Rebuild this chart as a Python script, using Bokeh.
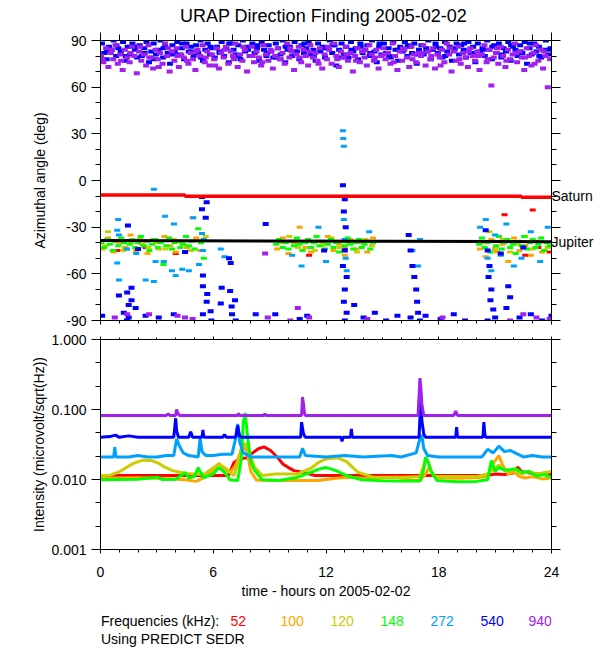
import math
from bokeh.plotting import figure
from bokeh.models import Range1d, FixedTicker, LinearAxis, LogAxis, PrintfTickFormatter, ColumnDataSource
from bokeh.core.properties import value
from bokeh.layouts import column
from bokeh.embed import file_html
from bokeh.resources import INLINE

FONT = "Liberation Sans"

# ---------------- texts ----------------
title_text = "URAP Direction Finding  2005-02-02"
x_label = "time - hours on 2005-02-02"
y1_label = "Azimuthal angle (deg)"
y2_label = "Intensity (microvolt/sqrt(Hz))"
legend_head = "Frequencies (kHz):"
legend_note = "Using PREDICT SEDR"
freq_labels = ["52", "100", "120", "148", "272", "540", "940"]
freq_colors = ["#FF0000", "#FFA500", "#CCCC00", "#00FF00", "#00A0FF", "#0000FF", "#A020F0"]
planet_names = ["Saturn", "Jupiter"]

# ---------------- ticks ----------------
hour_ticks = [0, 6, 12, 18, 24]
hour_minor = [h for h in range(0, 25) if h not in hour_ticks]
angle_ticks = [-90, -60, -30, 0, 30, 60, 90]
angle_minor = [-80, -70, -50, -40, -20, -10, 10, 20, 40, 50, 70, 80]
intensity_ticks = [0.001, 0.01, 0.1, 1.0]
intensity_minor = [0.00215, 0.00464, 0.0215, 0.0464, 0.215, 0.464]

# ---------------- top panel: direction finding (hour, azimuth deg) ----------------
saturn = [(0, -9.3), (4.5, -9.3), (4.5, -10.2), (22.4, -10.2), (22.4, -10.8), (24, -10.8)]
jupiter = [(0, -38.6), (24, -39.3)]
planet_label_pos = [-9.9, -39.3]

df_940 = [
    (0.03,80),(0.15,76),(0.3,85),(0.42,73),(0.55,82),(0.68,78),(0.8,87),(0.92,75),
    (1.05,81),(1.18,71),(1.3,84),(1.42,79),(1.55,76),(1.68,86),(1.8,80),(1.93,69),
    (2.05,83),(2.17,77),(2.3,81),(2.43,74),(2.55,87),(2.68,79),(2.8,72),(2.93,84),
    (3.05,78),(3.17,82),(3.3,75),(3.43,88),(3.55,80),(3.68,70),(3.8,83),(3.93,77),
    (4.05,85),(4.17,73),(4.3,81),(4.43,79),(4.55,86),(4.68,75),(4.8,82),(4.93,78),
    (5.05,71),(5.17,84),(5.3,80),(5.43,87),(5.55,76),(5.68,83),(5.8,74),(5.93,81),
    (6.05,78),(6.17,85),(6.3,72),(6.43,82),(6.55,79),(6.68,86),(6.8,75),(6.93,83),
    (7.05,80),(7.17,88),(7.3,73),(7.43,81),(7.55,77),(7.68,84),(7.8,70),(7.93,80),
    (8.05,86),(8.17,76),(8.3,83),(8.43,79),(8.55,74),(8.68,87),(8.8,81),(8.93,77),
    (9.05,84),(9.17,72),(9.3,80),(9.43,85),(9.55,78),(9.68,82),(9.8,75),(9.93,88),
    (10.05,79),(10.17,83),(10.3,71),(10.43,81),(10.55,86),(10.68,76),(10.8,84),(10.93,80),
    (11.05,74),(11.17,87),(11.3,79),(11.43,82),(11.55,77),(11.68,85),(11.8,72),(11.93,81),
    (12.05,78),(12.17,84),(12.3,75),(12.43,88),(12.55,80),(12.68,73),(12.8,83),(12.93,79),
    (13.05,86),(13.17,77),(13.3,82),(13.43,70),(13.55,80),(13.68,85),(13.8,76),(13.93,83),
    (14.05,79),(14.17,74),(14.3,87),(14.43,81),(14.55,77),(14.68,84),(14.8,72),(14.93,80),
    (15.05,85),(15.17,78),(15.3,82),(15.43,75),(15.55,88),(15.68,80),(15.8,71),(15.93,83),
    (16.05,77),(16.17,84),(16.3,79),(16.43,73),(16.55,86),(16.68,81),(16.8,76),(16.93,82),
    (17.05,80),(17.17,87),(17.3,74),(17.43,83),(17.55,78),(17.68,85),(17.8,72),(17.93,81),
    (18.05,79),(18.17,84),(18.3,76),(18.43,88),(18.55,81),(18.68,70),(18.8,83),(18.93,77),
    (19.05,86),(19.17,75),(19.3,82),(19.43,79),(19.55,73),(19.68,85),(19.8,80),(19.93,77),
    (20.05,83),(20.17,71),(20.3,81),(20.43,87),(20.55,76),(20.68,84),(20.8,61),(20.93,79),
    (21.05,82),(21.17,75),(21.3,86),(21.43,80),(21.55,73),(21.68,84),(21.8,78),(21.93,81),
    (22.05,88),(22.17,76),(22.3,83),(22.43,79),(22.55,71),(22.68,85),(22.8,80),(22.93,74),
    (23.05,82),(23.17,87),(23.3,77),(23.43,84),(23.55,72),(23.68,80),(23.8,60),(23.93,78),
    (0.1,78),(0.6,84),(1.1,77),(1.6,82),(2.1,86),(2.6,79),(3.1,73),(3.6,85),(4.1,80),(4.6,77),
    (5.1,83),(5.6,79),(6.1,74),(6.6,84),(7.1,78),(7.6,86),(8.1,80),(8.6,76),(9.1,83),(9.6,78),
    (10.1,85),(10.6,79),(11.1,83),(11.6,75),(12.1,86),(12.6,78),(13.1,81),(13.6,77),(14.1,84),
    (14.6,79),(15.1,81),(15.6,76),(16.1,85),(16.6,78),(17.1,82),(17.6,80),(18.1,74),(18.6,85),
    (19.1,78),(19.6,83),(20.1,80),(20.6,78),(21.1,85),(21.6,77),(22.1,82),(22.6,79),(23.1,75),(23.6,83),
    (0.76,-88),(1.42,-86),(2.58,-86),(4.1,-87),(4.5,-88),(4.9,-89),(8.9,-88),(10.1,-90),
    (10.5,-82),(11.1,-88),(8.76,-47),(14.2,-89),(18.2,-88),(21.8,-90),(22.5,-86),(23.2,-88),(23.9,-89),
]

df_540 = [
    (0.08,88),(0.2,82),(0.33,78),(0.45,86),(0.58,84),(0.7,90),(0.83,80),(0.95,85),
    (1.08,83),(1.2,89),(1.33,77),(1.45,86),(1.58,81),(1.7,88),(1.83,84),(1.95,79),
    (2.08,87),(2.2,80),(2.33,85),(2.45,89),(2.58,76),(2.7,83),(2.83,88),(2.95,81),
    (3.08,84),(3.2,90),(3.33,79),(3.45,86),(3.58,82),(3.7,75),(3.83,87),(3.95,83),
    (4.08,89),(4.2,81),(4.33,85),(4.45,78),(4.58,88),(4.7,83),(4.83,86),(4.95,80),
    (5.08,87),(5.2,82),(5.33,90),(5.45,77),(5.58,84),(5.7,88),(5.83,81),(5.95,85),
    (6.08,79),(6.2,86),(6.33,83),(6.45,89),(6.58,80),(6.7,85),(6.83,76),(6.95,88),
    (7.08,84),(7.2,81),(7.33,87),(7.45,78),(7.58,90),(7.7,83),(7.83,86),(7.95,80),
    (8.08,88),(8.2,82),(8.33,85),(8.45,77),(8.58,89),(8.7,84),(8.83,80),(8.95,87),
    (9.08,83),(9.2,79),(9.33,88),(9.45,85),(9.58,81),(9.7,90),(9.83,76),(9.95,84),
    (10.08,86),(10.2,80),(10.33,89),(10.45,83),(10.58,78),(10.7,87),(10.83,82),(10.95,85),
    (11.08,89),(11.2,81),(11.33,84),(11.45,77),(11.58,88),(11.7,83),(11.83,86),(11.95,79),
    (12.08,85),(12.2,90),(12.33,82),(12.45,87),(12.55,74),(12.7,84),(12.83,88),(12.95,81),
    (13.08,86),(13.2,79),(13.33,89),(13.45,83),(13.58,85),(13.7,78),(13.83,88),(13.95,82),
    (14.08,84),(14.2,87),(14.33,80),(14.45,90),(14.58,83),(14.7,76),(14.83,86),(14.95,81),
    (15.08,88),(15.2,82),(15.33,85),(15.45,79),(15.58,89),(15.7,84),(15.83,77),(15.95,86),
    (16.08,83),(16.2,89),(16.33,80),(16.45,86),(16.58,82),(16.7,88),(16.83,75),(16.95,84),
    (17.08,87),(17.2,81),(17.33,85),(17.45,90),(17.58,78),(17.7,84),(17.83,88),(17.95,82),
    (18.08,85),(18.2,79),(18.33,89),(18.45,83),(18.58,86),(18.7,77),(18.83,84),(18.95,88),
    (19.08,81),(19.2,87),(19.33,84),(19.45,79),(19.58,89),(19.7,82),(19.83,86),(19.95,76),
    (20.08,88),(20.2,83),(20.33,85),(20.45,80),(20.58,90),(20.7,84),(20.83,78),(20.95,87),
    (21.08,82),(21.2,88),(21.33,79),(21.45,85),(21.58,83),(21.7,89),(21.83,77),(21.95,86),
    (22.08,84),(22.2,80),(22.33,87),(22.45,82),(22.58,89),(22.7,75),(22.83,85),(22.95,81),
    (23.08,88),(23.2,83),(23.33,86),(23.45,79),(23.58,84),(23.7,90),(23.83,81),(23.95,85),
    (0.35,83),(0.85,87),(1.35,80),(1.85,86),(2.35,82),(2.85,78),(3.35,85),(3.85,81),(4.35,88),
    (4.85,83),(5.35,79),(5.85,86),(6.35,82),(6.85,88),(7.35,80),(7.85,84),(8.35,87),(8.85,82),
    (9.35,79),(9.85,86),(10.35,83),(10.85,88),(11.35,80),(11.85,85),(12.35,87),(12.85,79),
    (13.35,84),(13.85,86),(14.35,82),(14.85,88),(15.35,80),(15.85,84),(16.35,87),(16.85,81),
    (17.35,83),(17.85,86),(18.35,80),(18.85,85),(19.35,88),(19.85,82),(20.35,84),(20.85,86),
    (21.35,81),(21.85,87),(22.35,83),(22.85,88),(23.35,80),(23.85,84),
    (1.46,-29),(5.4,-10.6),(5.65,-14),(5.4,-18.5),(5.6,-24),(5.45,-61),(5.45,-68),(5.68,-73),
    (5.65,-78),(5.86,-84),(6.84,-50),(6.93,-53),(6.45,-69),(6.9,-71),(7.16,-77),(6.98,-81),
    (7.0,-86),(6.4,-79),(1.65,-69),(1.42,-72),(0.98,-74),(1.65,-77),(1.5,-80),(1.87,-82),
    (1.24,-85),(1.5,-88),(0.09,-87),(2.4,-87),(3.1,-88),(3.9,-86),(5.45,-86),(5.9,-90),
    (7.2,-90),(8.26,-86),(9.3,-86),(8.79,-28),(10.6,-89),(11.0,-87),(1.4,-90),
    (12.9,-3),(13.0,-12),(12.95,-20),(13.05,-30),(13.0,-45),(12.9,-55),(13.1,-62),(13.0,-70),
    (12.95,-78),(13.1,-85),(13.0,-90),(13.5,-80),(14.0,-88),(14.6,-85),(15.2,-90),(15.8,-87),
    (16.4,-35),(16.5,-45),(16.6,-55),(16.7,-62),(16.8,-70),(16.85,-78),(16.9,-85),(17.0,-90),
    (16.5,-88),(17.3,-87),(18.1,-89),(18.8,-86),(19.4,-90),
    (20.5,-32),(20.6,-45),(20.7,-55),(20.65,-62),(20.8,-70),(20.75,-77),(20.9,-83),(21.0,-88),
    (20.6,-90),(21.7,-68),(21.8,-75),(21.6,-82),(22.3,-88),(22.9,-86),(23.5,-90),(24.0,-87),
    (2.0,-44),(4.5,-46),(11.9,-45),(21.3,-47),(22.5,-43),
]

df_272 = [
    (0.89,-32),(0.94,-25),(0.98,-35),(0.89,-53),(0.98,-64),(1.4,-44),(1.9,-47),(2.4,-64),
    (2.84,-5.7),(2.84,-65),(2.93,-52),(3.37,-52),(3.43,-23),(3.8,-58),(3.91,-28),(4.0,-61),
    (4.35,-57),(4.7,-58),(4.94,-24),(5.24,-54),(5.4,-34),(5.45,-45),(5.5,-38),(6.4,-44),
    (6.6,-49),(10.7,-55),(10.2,-48),(11.6,-30),(12.0,-52),(12.9,32),(12.92,27),(12.95,22),
    (12.95,-25),(13.0,-38),(13.05,-50),(13.1,-58),(14.3,-33),(16.6,-45),(16.9,-55),(17.0,-38),
    (20.2,-30),(20.5,-25),(20.6,-50),(20.8,-58),(21.0,-35),(21.3,-48),(21.6,-28),(22.0,-55),
    (22.4,-50),(22.9,-33),(23.4,-52),(23.8,-30),
]

df_148 = [
    (0.05,-40),(0.2,-43),(0.35,-38),(0.5,-41),(0.65,-45),(0.8,-39),(0.95,-42),(1.1,-37),
    (1.25,-40),(1.4,-44),(1.55,-41),(1.7,-38),(1.85,-43),(2.0,-40),(2.15,-36),(2.3,-42),
    (2.45,-39),(2.6,-45),(2.75,-41),(2.9,-38),(3.05,-43),(3.2,-40),(3.35,-54),(3.5,-42),
    (3.65,-37),(3.8,-44),(3.95,-40),(4.1,-39),(4.25,-43),(4.4,-41),(4.55,-36),(4.7,-42),
    (4.85,-39),(5.0,-44),(5.2,-31),(5.35,-40),(5.5,-50),
    (9.35,-41),(9.5,-38),(9.7,-43),(9.85,-40),(10.0,-44),(10.15,-39),(10.3,-42),(10.45,-37),
    (10.6,-41),(10.75,-45),(10.9,-40),(11.05,-38),(11.2,-43),(11.35,-40),(11.5,-36),(11.65,-42),
    (11.8,-39),(11.95,-44),(12.1,-41),(12.25,-38),(12.4,-43),(12.55,-40),(12.7,-46),(12.85,-39),
    (13.0,-42),(13.15,-37),(13.3,-41),(13.45,-44),(13.6,-40),(13.75,-38),(13.9,-43),(14.05,-41),
    (14.2,-39),(14.35,-44),(14.5,-40),
    (20.15,-41),(20.3,-37),(20.45,-43),(20.6,-40),(20.75,-46),(20.9,-39),(21.05,-42),(21.2,-36),
    (21.35,-44),(21.5,-40),(21.65,-38),(21.8,-43),(21.95,-41),(22.1,-47),(22.25,-39),(22.4,-42),
    (22.55,-36),(22.7,-44),(22.85,-40),(23.0,-38),(23.15,-43),(23.3,-41),(23.45,-37),(23.6,-45),
    (23.75,-40),(23.9,-42),
]

df_120 = [
    (0.25,-42),(0.4,-33),(0.75,-39),(1.2,-45),(1.65,-40),(2.1,-37),(2.55,-43),(3.0,-40),
    (3.45,-44),(3.9,-38),(4.35,-41),(4.8,-45),(5.6,-36),
    (9.6,-40),(10.05,-36),(10.5,-43),(10.95,-39),(11.4,-45),(11.85,-41),(12.3,-37),(12.75,-43),
    (13.2,-40),(13.65,-46),(14.1,-38),(14.45,-42),
    (20.4,-40),(20.7,-33),(21.0,-44),(21.4,-38),(21.8,-46),(22.2,-41),(22.6,-36),(23.0,-44),
    (23.4,-39),(23.8,-43),
]

df_100 = [
    (0.1,-44),(0.4,-37),(0.7,-46),(1.0,-40),(1.3,-43),(1.6,-35),(1.9,-45),(2.2,-41),
    (2.5,-47),(2.8,-38),(3.1,-44),(3.4,-36),(3.7,-42),(4.0,-46),(4.3,-39),(4.6,-43),
    (4.9,-24),(5.1,-37),(5.3,-45),
    (9.4,-44),(9.7,-37),(10.0,-47),(10.3,-40),(10.6,-30),(10.9,-43),(11.2,-46),(11.5,-39),
    (11.8,-42),(12.1,-36),(12.4,-45),(12.7,-41),(13.0,-48),(13.3,-38),(13.6,-44),(13.9,-40),
    (14.2,-46),(14.5,-37),
    (20.2,-44),(20.5,-49),(20.8,-38),(21.1,-46),(21.4,-41),(21.7,-52),(22.0,-37),(22.3,-45),
    (22.6,-42),(22.9,-48),(23.2,-39),(23.5,-46),(23.8,-43),
]

df_52 = [
    (0.9,-45),(2.4,-43),(4.0,-47),(11.1,-48),(13.0,-44),(21.0,-44),(21.5,-22),(22.6,-48),
    (23.0,-19),(23.3,-43),(23.9,-46),
]

# ---------------- bottom panel: intensity (hour, microvolt/sqrt(Hz)) ----------------
int_52 = [(0,0.0114),(6.8,0.0114),(6.9,0.013),(7.1,0.0175),(7.4,0.0197),(7.8,0.0205),(8.1,0.024),
    (8.4,0.0275),(8.7,0.0293),(9.05,0.026),(9.4,0.021),(9.7,0.0167),(10.0,0.0148),(10.3,0.0134),
    (10.9,0.0125),(11.4,0.0114),(16.0,0.0114),(20.5,0.0114),(21.0,0.012),(21.5,0.0118),(22.0,0.0125),
    (22.2,0.015),(22.4,0.013),(23.0,0.0122),(23.5,0.012),(24,0.0118)]
int_100 = [(0,0.0104),(1.0,0.0105),(2.0,0.0106),(3.0,0.0104),(4.0,0.0102),(4.6,0.0098),(5.1,0.0094),
    (5.6,0.011),(6.0,0.0135),(6.3,0.017),(6.6,0.014),(6.9,0.0125),(7.2,0.016),(7.45,0.025),(7.6,0.031),
    (7.8,0.025),(8.0,0.013),(8.3,0.0098),(9.0,0.0097),(10.5,0.0097),(11.6,0.0097),(12.5,0.0104),
    (13.3,0.0108),(14.0,0.0104),(15.0,0.0106),(15.8,0.0108),(16.5,0.0098),(17.0,0.0097),(17.3,0.012),
    (17.5,0.015),(17.7,0.0115),(18.0,0.0106),(19.0,0.0104),(20.0,0.0106),(20.6,0.011),(20.9,0.017),
    (21.2,0.022),(21.4,0.016),(21.7,0.012),(22.0,0.013),(22.3,0.011),(22.6,0.0105),(23.0,0.011),
    (23.5,0.0102),(24,0.0105)]
int_120 = [(0,0.0114),(0.5,0.0115),(0.95,0.0127),(1.4,0.015),(1.7,0.0167),(2.0,0.018),(2.3,0.0189),
    (2.7,0.0187),(3.1,0.017),(3.4,0.0151),(3.8,0.0135),(4.2,0.0127),(4.6,0.0122),(5.0,0.012),
    (5.5,0.0118),(5.9,0.014),(6.3,0.0167),(6.7,0.0142),(7.1,0.0114),(7.4,0.02),(7.5,0.029),(7.7,0.033),
    (7.9,0.025),(8.2,0.015),(8.6,0.0114),(9.3,0.012),(10.5,0.012),(11.2,0.0145),(11.6,0.0175),
    (12.0,0.0197),(12.6,0.0205),(13.1,0.018),(13.4,0.015),(13.7,0.0127),(14.5,0.0108),(16.0,0.0108),
    (17.0,0.011),(17.2,0.016),(17.35,0.02),(17.6,0.013),(17.8,0.011),(20.0,0.011),(20.6,0.012),
    (20.9,0.014),(21.2,0.016),(21.6,0.013),(22.0,0.014),(22.4,0.012),(22.8,0.013),(23.2,0.012),
    (23.6,0.0125),(24,0.013)]
int_148 = [(0,0.0099),(1.0,0.0100),(2.0,0.0101),(3.0,0.0108),(3.3,0.0100),(4.0,0.0101),(4.5,0.0125),
    (4.7,0.0105),(5.0,0.011),(5.2,0.0148),(5.3,0.013),(5.5,0.0106),(6.0,0.012),(6.3,0.0148),
    (6.6,0.0127),(6.9,0.0098),(7.3,0.0097),(7.5,0.02),(7.6,0.066),(7.7,0.089),(7.85,0.036),(8.0,0.018),
    (8.2,0.0135),(8.6,0.0099),(9.5,0.0097),(10.5,0.0108),(11.2,0.0127),(11.6,0.014),(12.0,0.0148),
    (12.5,0.0135),(13.1,0.0114),(13.9,0.0099),(15.0,0.0096),(16.0,0.0095),(17.0,0.0095),(17.2,0.014),
    (17.3,0.0208),(17.45,0.0175),(17.6,0.013),(17.9,0.0097),(19.0,0.0093),(20.0,0.0094),(20.6,0.0099),
    (20.8,0.0187),(21.0,0.013),(21.2,0.015),(21.5,0.0135),(22.1,0.0142),(22.4,0.0127),(22.8,0.013),
    (23.2,0.0112),(23.6,0.0118),(24,0.0108)]
int_272 = [(0,0.021),(0.7,0.021),(0.76,0.029),(0.82,0.021),(1.5,0.021),(2.0,0.022),(2.5,0.021),
    (3.0,0.021),(3.5,0.022),(3.9,0.022),(4.05,0.038),(4.2,0.03),(4.4,0.024),(4.7,0.022),(5.2,0.021),
    (5.3,0.039),(5.4,0.025),(5.6,0.022),(6.0,0.022),(6.5,0.023),(7.0,0.023),(7.2,0.04),(7.3,0.062),
    (7.4,0.035),(7.6,0.024),(8.0,0.021),(10.6,0.021),(10.75,0.028),(10.9,0.022),(12.0,0.021),
    (13.0,0.022),(14.0,0.021),(15.5,0.022),(16.0,0.021),(16.8,0.024),(17.0,0.039),(17.1,0.043),
    (17.2,0.028),(17.4,0.022),(18.0,0.021),(20.3,0.021),(20.6,0.027),(20.9,0.024),(21.2,0.03),
    (21.5,0.025),(21.8,0.026),(22.2,0.023),(22.5,0.021),(23.0,0.022),(23.5,0.021),(24,0.021)]
int_540 = [(0,0.040),(0.5,0.041),(0.8,0.043),(1.0,0.040),(1.5,0.042),(2.0,0.040),(3.9,0.040),
    (4.0,0.075),(4.05,0.05),(4.15,0.040),(4.7,0.040),(4.8,0.048),(4.9,0.040),(5.4,0.040),(5.45,0.051),
    (5.5,0.040),(6.5,0.040),(6.6,0.044),(6.7,0.040),(7.2,0.040),(7.3,0.059),(7.4,0.042),(7.5,0.040),
    (10.65,0.040),(10.7,0.066),(10.8,0.045),(10.9,0.040),(12.8,0.040),(12.85,0.035),(12.9,0.040),
    (13.3,0.040),(13.35,0.053),(13.4,0.040),(16.95,0.040),(17.05,0.142),(17.1,0.07),(17.2,0.045),
    (17.3,0.040),(18.9,0.040),(18.95,0.056),(19.0,0.040),(20.35,0.040),(20.4,0.066),(20.45,0.045),
    (20.5,0.040),(24,0.040)]
int_940 = [(0,0.082),(3.5,0.082),(3.6,0.087),(3.7,0.082),(4.0,0.082),(4.05,0.10),(4.1,0.09),
    (4.2,0.082),(7.3,0.082),(7.35,0.088),(7.4,0.082),(8.7,0.082),(8.75,0.087),(8.8,0.082),
    (10.7,0.082),(10.75,0.15),(10.8,0.12),(10.85,0.09),(10.9,0.082),(16.9,0.082),(17.0,0.28),
    (17.05,0.2),(17.1,0.12),(17.2,0.082),(18.8,0.082),(18.9,0.095),(19.0,0.082),(24,0.082)]

df_series = [df_52, df_100, df_120, df_148, df_272, df_540, df_940]
int_series = [int_52, int_100, int_120, int_148, int_272, int_540, int_940]


def unzip(pairs):
    xs, ys = zip(*pairs)
    return list(xs), list(ys)


def style_fig(p, outline=True):
    p.xgrid.visible = False
    p.ygrid.visible = False
    p.outline_line_color = "black" if outline else None
    p.outline_line_width = 1
    p.background_fill_color = "white"
    p.border_fill_color = "white"


def add_axis(p, cls, place, ticks, minors, out_major, out_minor, labels=False, fmt=None,
             standoff=5, axis_label=None, label_standoff=5):
    ax = cls(ticker=FixedTicker(ticks=ticks, minor_ticks=minors))
    ax.major_tick_in = 0
    ax.minor_tick_in = 0
    ax.major_tick_out = out_major
    ax.minor_tick_out = out_minor
    ax.axis_line_color = "black"
    ax.major_tick_line_color = "black"
    ax.minor_tick_line_color = "black"
    ax.major_label_text_font = FONT
    if labels:
        ax.major_label_text_color = "black"
        ax.major_label_text_font_size = "14px"
        ax.major_label_standoff = standoff
    else:
        ax.major_label_text_color = "white"
        ax.major_label_text_alpha = 0.0
        ax.major_label_text_font_size = "1px"
        ax.major_label_standoff = 0
    if fmt is not None:
        ax.formatter = fmt
    if axis_label is not None:
        ax.axis_label = axis_label
        ax.axis_label_text_font = FONT
        ax.axis_label_text_font_size = "14px"
        ax.axis_label_text_font_style = "normal"
        ax.axis_label_text_color = "black"
        ax.axis_label_standoff = label_standoff
    p.add_layout(ax, place)
    return ax


def text_strip(height, items, size="14px", align="left"):
    # items: (page_x_px, y_px_from_top, text, colour); the strip's frame is aligned with the panels
    p = figure(width=598, height=height, title=None, x_range=Range1d(100, 551), y_range=Range1d(height, 0),
               x_axis_location=None, y_axis_location=None, output_backend="svg", toolbar_location=None,
               min_border_left=100, min_border_right=47, min_border_top=0, min_border_bottom=0)
    style_fig(p, outline=False)
    src = ColumnDataSource(dict(x=[i[0] for i in items], y=[i[1] for i in items],
                                t=[i[2] for i in items], c=[i[3] for i in items]))
    p.text(x="x", y="y", text="t", text_color="c", source=src, text_font=value(FONT),
           text_font_size=value(size), text_align=align, text_baseline="middle")
    return p


# ---------------- header (title) ----------------
p0 = text_strip(30, [(325.5, 15, title_text, "black")], size="18px", align="center")

# ---------------- top figure ----------------
p1 = figure(width=598, height=300, title=None, x_range=Range1d(0, 24), y_range=Range1d(-90, 90),
            x_axis_location=None, y_axis_location=None, output_backend="svg", toolbar_location=None,
            min_border_left=100, min_border_right=47, min_border_top=10, min_border_bottom=10)
style_fig(p1)
add_axis(p1, LinearAxis, "left", angle_ticks, angle_minor, 9, 5, labels=True,
         fmt=PrintfTickFormatter(format="%d"), standoff=5, axis_label=y1_label, label_standoff=15)
add_axis(p1, LinearAxis, "right", angle_ticks, angle_minor, 9, 5)
name_axis = LinearAxis(ticker=FixedTicker(ticks=planet_label_pos, minor_ticks=[]),
                       major_label_overrides={planet_label_pos[0]: planet_names[0],
                                              planet_label_pos[1]: planet_names[1]})
name_axis.major_tick_out = 0
name_axis.major_tick_in = 0
name_axis.minor_tick_out = 0
name_axis.minor_tick_in = 0
name_axis.axis_line_color = None
name_axis.major_tick_line_color = None
name_axis.minor_tick_line_color = None
name_axis.major_label_standoff = -9
name_axis.major_label_text_font = FONT
name_axis.major_label_text_font_size = "14px"
name_axis.major_label_text_color = "black"
p1.add_layout(name_axis, "right")
add_axis(p1, LinearAxis, "above", hour_ticks, hour_minor, 8, 6)
add_axis(p1, LinearAxis, "below", hour_ticks, hour_minor, 4, 3)

band_series = {"#0000FF", "#A020F0"}
for pts, col in zip(df_series, freq_colors):
    xs, ys = unzip(pts)
    src = ColumnDataSource(dict(x=xs, y=ys))
    h = 4 if col in band_series else 3
    p1.rect(x="x", y="y", width=6, height=h, width_units="screen", height_units="screen",
            source=src, fill_color=col, line_color=None)

sx, sy = unzip(saturn)
p1.line(sx, sy, line_color="#FF0000", line_width=3.5)
jx, jy = unzip(jupiter)
p1.line(jx, jy, line_color="black", line_width=3)

# ---------------- bottom figure ----------------
p2 = figure(width=598, height=277, title=None, x_range=Range1d(0, 24), y_range=Range1d(0.001, 1.0),
            y_axis_type="log", x_axis_location=None, y_axis_location=None,
            output_backend="svg", toolbar_location=None,
            min_border_left=100, min_border_right=47, min_border_top=9, min_border_bottom=58)
style_fig(p2)
add_axis(p2, LogAxis, "left", intensity_ticks, intensity_minor, 9, 5, labels=True,
         fmt=PrintfTickFormatter(format="%.3f"), standoff=5, axis_label=y2_label, label_standoff=1)
add_axis(p2, LogAxis, "right", intensity_ticks, intensity_minor, 9, 5)
add_axis(p2, LinearAxis, "above", hour_ticks, hour_minor, 3, 2)
add_axis(p2, LinearAxis, "below", hour_ticks, hour_minor, 4, 3, labels=True,
         fmt=PrintfTickFormatter(format="%d"), standoff=13, axis_label=x_label, label_standoff=3)

for pts, col in zip(int_series, freq_colors):
    xs, ys = unzip(pts)
    p2.line(xs, ys, line_color=col, line_width=3)

# ---------------- footer (frequency key) ----------------
legend_x = [230, 280, 330, 380, 430, 480, 528]
footer_items = [(100.5, 13, legend_head, "black")]
footer_items += [(lx, 13, lab, col) for lx, lab, col in zip(legend_x, freq_labels, freq_colors)]
footer_items += [(100.5, 31, legend_note, "black")]
p3 = text_strip(41, footer_items)

layout = column(p0, p1, p2, p3, spacing=0)
open("out.html", "w").write(file_html(layout, INLINE))
